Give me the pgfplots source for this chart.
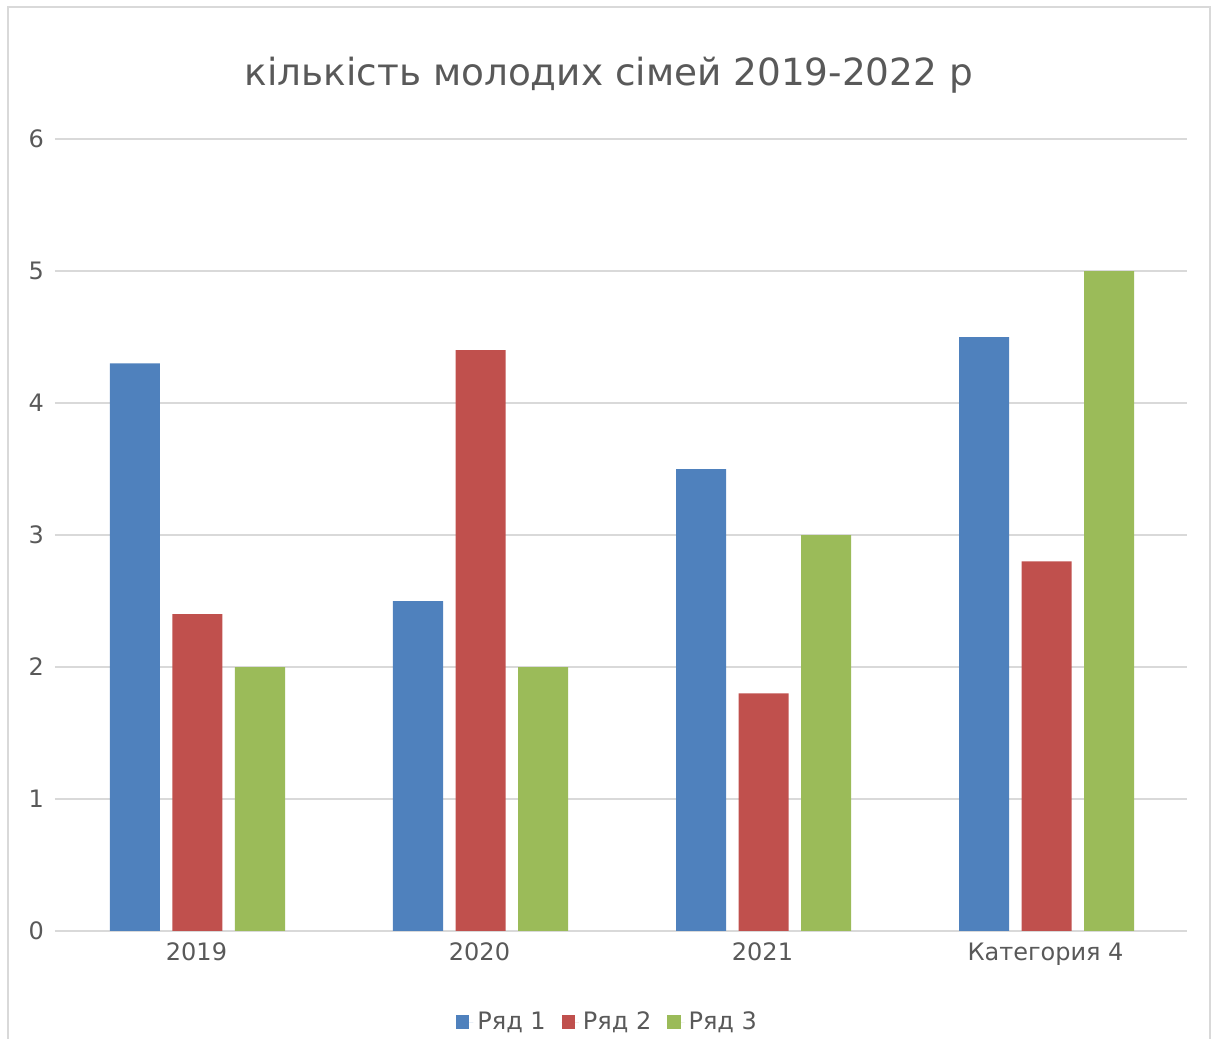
\documentclass[border=0pt]{standalone}
\usepackage{fontspec}
\setmainfont{DejaVu Sans}
\usepackage{pgfplots}
\pgfplotsset{compat=1.18}
\definecolor{txt}{HTML}{595959}
\definecolor{gridc}{HTML}{D9D9D9}
\definecolor{framec}{HTML}{D9D9D9}
\definecolor{s1}{HTML}{4F81BD}
\definecolor{s2}{HTML}{C0504D}
\definecolor{s3}{HTML}{9BBB59}
\begin{document}
\begin{tikzpicture}
\path[use as bounding box] (-27.5pt,-54pt) rectangle (581pt,465.5pt);
\draw[color=framec, line width=1pt] (-23.5pt,-60pt) rectangle (577.5pt,462pt);
\begin{axis}[
  at={(0pt,0pt)}, anchor=south west,
  scale only axis, width=566pt, height=396pt,
  ybar, bar width=25pt,
  ymin=0, ymax=6, xmin=-0.5, xmax=3.5,
  xtick={0,1,2,3},
  xticklabels={2019,2020,2021,Категория 4},
  ytick={0,1,2,3,4,5,6},
  ymajorgrids, grid style={color=gridc, line width=1pt},
  axis x line*=bottom, axis y line*=left,
  y axis line style={draw=none},
  x axis line style={draw=gridc, line width=1pt, -},
  major tick length=0pt,
  tick label style={font=\fontsize{12}{14}\selectfont, text=txt},
  /pgf/number format/assume math mode=true,
  xticklabel style={yshift=-2.5pt},
  yticklabel style={xshift=-2pt},
  legend style={at={(0.489,-0.115)}, anchor=center, draw=none, fill=none,
    legend columns=3, font=\fontsize{12}{14}\selectfont, text=txt,
    /tikz/every even column/.append style={column sep=6pt}},
  legend image code/.code={\fill[#1,draw=none] (0pt,-3.3pt) rectangle (6.6pt,3.3pt);
    \path (0pt,0pt) -- (8.6pt,0pt);},
]
\addplot[fill=s1, draw=none, bar shift=-30.75pt] coordinates {(0,4.3) (1,2.5) (2,3.5) (3,4.5)};
\addplot[fill=s2, draw=none, bar shift=0.5pt] coordinates {(0,2.4) (1,4.4) (2,1.8) (3,2.8)};
\addplot[fill=s3, draw=none, bar shift=31.75pt] coordinates {(0,2.0) (1,2.0) (2,3.0) (3,5.0)};
\legend{Ряд 1, Ряд 2, Ряд 3}
\end{axis}
\node[text=txt, font=\fontsize{18.7}{22}\selectfont] at (277pt,428pt) {кількість молодих сімей 2019-2022 р};
\end{tikzpicture}
\end{document}
